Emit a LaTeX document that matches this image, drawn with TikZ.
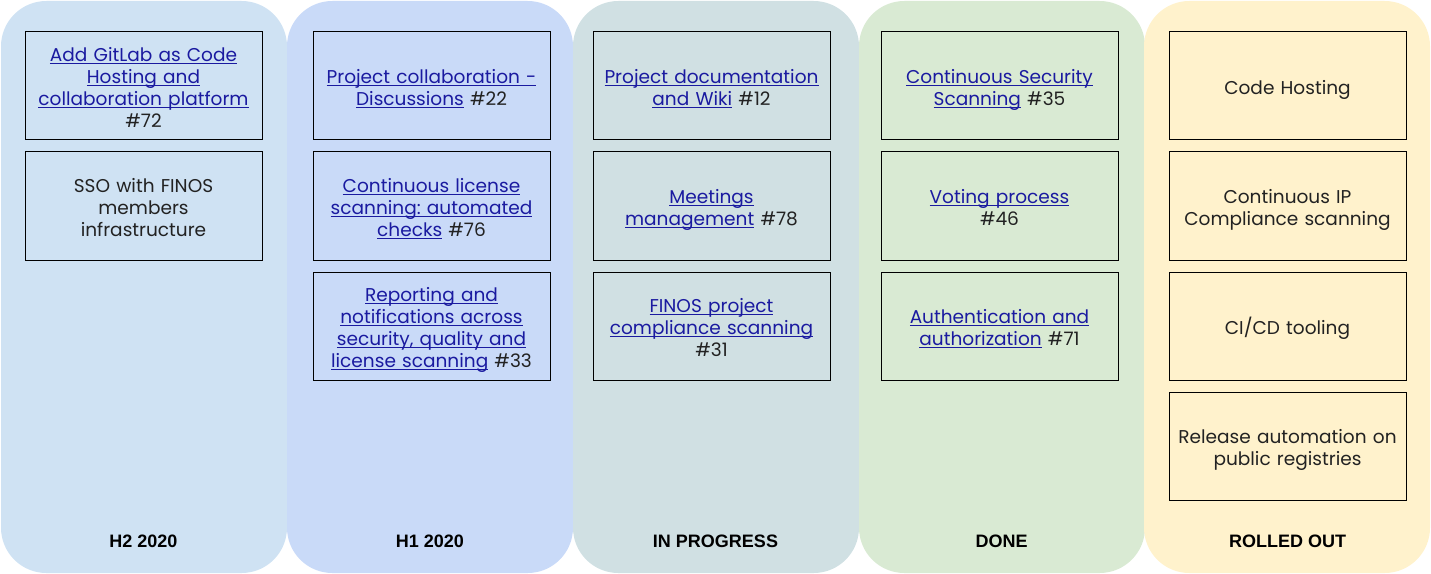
\documentclass[tikz,border=0pt]{standalone}
\usepackage{fontspec}
\setmainfont{Poppins}
\newfontfamily\lblfont{Liberation Sans}
\usepackage{xcolor}
\usepackage{tikz}
\usetikzlibrary{positioning}
\definecolor{hzc}{HTML}{CFE2F3}
\definecolor{hoc}{HTML}{C9DAF8}
\definecolor{ipc}{HTML}{D0E0E3}
\definecolor{dnc}{HTML}{D9EAD3}
\definecolor{roc}{HTML}{FFF2CC}
\definecolor{linkc}{HTML}{1A1AA0}
\definecolor{txtc}{HTML}{222222}
\newcommand\lnk[1]{\textcolor{linkc}{\setbox0\hbox{#1}\rlap{\rule[-2.3pt]{\wd0}{0.75pt}}\box0}}
\tikzset{
  box/.style={draw=black,line width=0.75pt,minimum width=177.75pt,minimum height=81pt,text width=172pt,align=center,inner sep=0pt,text=txtc,font=\fontsize{13.9}{16.5}\selectfont\frenchspacing,
    execute at begin node={\rule{0pt}{16.4pt}},execute at end node={\rule[-4pt]{0pt}{4pt}}},
  lbl/.style={font=\lblfont\bfseries\fontsize{13.5}{16}\selectfont,text=black}
}
\begin{document}
\begin{tikzpicture}[x=0.75pt,y=-0.75pt]
\useasboundingbox (0,0) rectangle (1431,574);
\foreach \xa/\cc in {1/hzc,287/hoc,573/ipc,859/dnc,1144/roc}{\fill[\cc,rounded corners=34pt] (\xa,1) rectangle ++(286,572);}
\node[box] (h2a) at (143.5,86) {\lnk{Add GitLab as Code}\\\lnk{Hosting and}\\\lnk{collaboration platform}\\\#72};
\node[box] (h2b) at (143.5,206) {SSO with FINOS\\members\\infrastructure};
\node[box] (h1a) at (431.5,86) {\lnk{Project collaboration -}\\\lnk{Discussions} \#22};
\node[box] (h1b) at (431.5,206) {\lnk{Continuous license}\\\lnk{scanning: automated}\\\lnk{checks} \#76};
\node[box] (h1c) at (431.5,326) {\lnk{Reporting and}\\\lnk{notifications across}\\\lnk{security, quality and}\\\lnk{license scanning} \#33};
\node[box] (ipa) at (711.5,86) {\lnk{Project documentation}\\\lnk{and Wiki} \#12};
\node[box] (ipb) at (711.5,206) {\lnk{Meetings}\\\lnk{management} \#78};
\node[box] (ipc) at (711.5,326) {\lnk{FINOS project}\\\lnk{compliance scanning}\\\#31};
\node[box] (dna) at (999.5,86) {\lnk{Continuous Security}\\\lnk{Scanning} \#35};
\node[box] (dnb) at (999.5,206) {\lnk{Voting process}\\\#46};
\node[box] (dnc) at (999.5,326) {\lnk{Authentication and}\\\lnk{authorization} \#71};
\node[box] (roa) at (1287.5,86) {Code Hosting};
\node[box] (rob) at (1287.5,206) {Continuous IP\\Compliance scanning};
\node[box] (roc) at (1287.5,326) {CI/CD tooling};
\node[box] (rod) at (1287.5,446) {Release automation on\\public registries};
\foreach \lx/\lt in {143.5/H2 2020,430/H1 2020,715.5/IN PROGRESS,1001.5/DONE,1287.5/ROLLED OUT}{\node[lbl] at (\lx,541) {\lt};}
\end{tikzpicture}
\end{document}
